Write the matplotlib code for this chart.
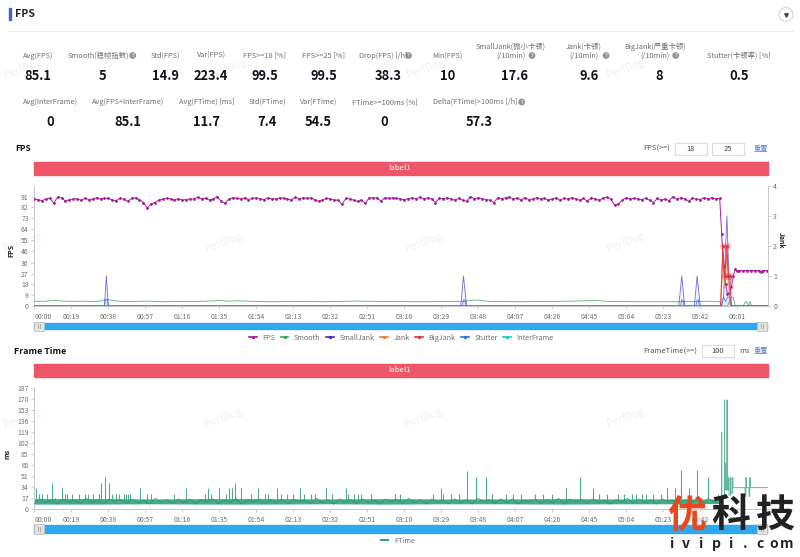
import numpy as np
import matplotlib
matplotlib.use("Agg")
import matplotlib.pyplot as plt
from matplotlib.patches import Rectangle, Circle
from matplotlib.lines import Line2D

plt.rcParams['font.family'] = ['Noto Sans CJK SC', 'DejaVu Sans']

# ---------- data ----------
tick_seconds = [0,19,38,57,76,95,114,133,152,171,190,209,228,247,266,285,304,323,342,361]
tick_labels = ["00:00","00:19","00:38","00:57","01:16","01:35","01:54","02:13","02:32","02:51",
               "03:10","03:29","03:48","04:07","04:26","04:45","05:04","05:23","05:42","06:01"]
fps_ticks = [0,9,18,27,36,46,55,64,73,82,91]
ft_ticks = [0,17,34,51,68,85,102,119,136,153,170,187]

fps_head = [89,88.5,87.5,89,89.5,85.5,90.5,90,87,88.5,89,89,88,89.5,88.5,89,90,89,89.5,89.5,
            88,87.5,89.5,89,87,89.5,90,88.5,86,81.5,85,86,88,89,89.5,89,88.5,89,88,88.5,
            89,89,90.5,89,89.5,88,89,91,87,85.5,89,90,89.5,89,90,88.5,89.5,90,89,88.5,
            90,89,89,90,89.5,89,88,90.5,89,90,89.5,90,88.5,87,88,89.5,89,88,88,84.5,
            89.5,89,88,87,88,85.5,90,90,90,87,90,89.5,90,89.5,89,88.5,89,90,89,90.5,
            89,90,89,86,89.5,89,90,89,88,89.5,88,87,91,89,90,89,88.5,88,86,90,
            89,90,90.5,89,90,88,90,88.5,89,90,89,89.5,88,89,90,88,89.5,89,90,89,
            88,89.5,87,90,89,88,89.5,90.5,89,84,85,88,90,89,89.5,89,88.5,89.5,88,86,
            89.5,88,89,87.5,91,89,90,89,87,89.5,89,88.5,90,89,90,89]
fps_tail_t = [352,353,354,355,356,357,358,359,360,361,362,364,366,368,370,372,373,374,376.5]
fps_tail = [89.5,60,33,18,10,11,16,25,31,29,29.5,29.5,29.5,29.5,29.5,29.5,28.5,29.5,29.5]

smooth_t = [0,5,10,15,20,25,30,34,37,40,45,50,58,65,75,85,95,100,105,112,120,135,150,165,180,
            200,220,226,235,250,270,289,295,310,330,345,352,353,356,358,359,360,364,365.5,367,
            367.5,368.5,376.5]
smooth_v = [4,3.8,4.7,4,3.8,4,3.7,4.1,5.6,4.6,3.8,3.6,4.1,3.6,3.7,3.8,4.6,4,4.4,3.8,3.6,3.7,3.6,
            4.1,3.7,3.6,3.8,5,3.7,3.6,3.8,4.6,3.7,3.6,3.6,3.9,3.6,0,0,7.5,7,0,0,3.8,0,3.8,0,0]

jank_small_t = [0,36,37,38,219,220.4,222,331,332.5,334,339,340.4,342,353,354,355.7,357,358,376.5]
jank_small_v = [0,0,1,0,0,1,0,0,1,0,0,1,0,0,0.3,3,0.4,0,0]
jank_t = [0,352.5,353.6,354.6,355.7,356.7,357.5,376.5]
jank_v = [0,0,1.6,0.6,1.7,0.8,0,0]
bigjank_t = [0,352.5,353.6,354.6,355.7,356.4,357.2,358,376.5]
bigjank_v = [0,0,2,1,2,1,1,0,0]
stutter_t = [0,36,36.5,37.6,38,219.8,220.4,221.2,221.8,332,332.4,333.2,333.8,339.8,340.4,341,341.6,352.7,354,355,356,357,358,376.5]
stutter_v = [0,0,0.2,0.2,0,0,0.2,0.2,0,0,0.2,0.2,0,0,0.2,0.2,0,0,0.3,0.15,0.3,0.3,0,0]
interframe_t = [0,376.5]
interframe_v = [0,0]

ft_band_t = [0,30,60,90,120,150,180,210,240,270,300,330,352]
ft_band_lo = [8,8,8.5,8,8,8.5,8,8.5,8.5,8,8.5,8.5,9]
ft_band_hi = [16.5,16.5,16,16.5,16.5,16,16.5,16,16,16.5,16,16,16]
ft_base = [9,16,10,15,8,16,11,14,9,17,10,15,8,16,12,15,9,16,10,14,8,17,11,15,9,16,10,16,8,15,12,16,
           9,14,10,17,8,15,11,16,9,15,10,16,8,16,12,14,9,17,10,15,8,16,11,15,9,16,10,14,8,16,12,15,
           9,17,10,15,8,16,11,14,9,16,10,15,8,17,12,15,9,16,10,16,8,14,11,16,9,15,10,17,8,16,12,15,
           9,16,10,14,8,15,11,17,9,16,10,15,8,16,12,14,9,15,10,16,8,17,11,15]
ft_spike_t = [1,2.5,4,6.5,9,10.5,14,16,17,19.5,23,26,27.5,30,33,34.5,36.5,38.5,40,42,43.5,46,47,48,49,
              54.5,58,60,72,78,87.5,89,91,95,98.5,100,101.5,103,106,111.5,115,118.5,120,124.5,
              126.5,130,133,136.5,138.5,142,144,150,153,160,161,164,166,168,173,185,188,
              205,209,210,214,218,222,227,232,235,242,246,250,257,261,266,273,280,287,290,294,300,303,307,309,312,
              314,318,322,325,329,332,336,340.5,346,351]
ft_spike_v = [33,24,24,24,41,17,33,24,24,24,24,24,24,24,24,41,50,41,24,24,24,24,24,24,24,
              33,24,24,24,33,24,33,24,33,24,33,33,41,33,24,33,24,24,33,24,24,24,33,24,24,24,33,24,33,24,24,24,24,24,24,24,
              24,33,24,24,24,59,50,50,24,24,24,24,24,24,24,33,50,33,24,24,24,24,24,24,24,24,
              24,24,33,33,60,33,60,50,24]
ft_end_t = [352.9,353.0,353.1,354.4,354.5,354.6,354.9,355.0,355.1,355.7,355.8,355.9,356.6,356.7,356.8,357.6,357.7,357.8,358.6,358.7,358.8,359.0,
            365,365.1,365.4,365.5,365.8,367,367.1,367.4,367.5,367.8,376.5]
ft_end_v = [14,119,20,20,169,30,30,71,30,30,169,30,30,49,22,22,49,25,25,49,33,33.5,
            33.5,20,20,49,33.5,33.5,20,20,49,33.5,33.5]

row1 = [("Avg(FPS)","85.1",38,38),("Smooth(稳帧指数)","5",98,102),("Std(FPS)","14.9",165.5,165.5),
        ("Var(FPS)","223.4",211,211),("FPS>=18 [%]","99.5",264.7,264.7),("FPS>=25 [%]","99.5",323.5,323.5),
        ("Drop(FPS) [/h]","38.3",383,388),("Min(FPS)","10",447.7,447.7),("(/10min)","17.6",510.5,515),
        ("(/10min)","9.6",584,589),("(/10min)","8",654.5,659),("Stutter(卡顿率) [%]","0.5",738.7,738.7)]
row1_top = [("SmallJank(微小卡顿)",511),("Jank(卡顿)",584),("BigJank(严重卡顿)",655)]
row2 = [("Avg(InterFrame)","0",50,50),("Avg(FPS+InterFrame)","85.1",128,128),("Avg(FTime) [ms]","11.7",206.7,206.7),
        ("Std(FTime)","7.4",267,267),("Var(FTime)","54.5",318.3,318.3),("FTime>=100ms [%]","0",384.6,384.5),
        ("Delta(FTime)>100ms [/h]","57.3",475,479)]
help_icons = [(132.7,55.5),(408.5,55.5),(532,55.5),(606,55.5),(675.7,55.5),(521.7,102)]
marks = [(22,68),(227,68),(425,68),(625,68),(22,242),(223,242),(423,242),(625,242),(22,418),(223,417),(423,417),(625,417)]

C_FPS, C_SM, C_SJ, C_J, C_BJ, C_ST, C_IF, C_FT = "#a3189a","#3fa35f","#3a2fd0","#ee7d31","#e5323c","#2f6fe0","#1fc8b4","#2f9e7c"
GREY, AXC = "#6f6f6f", "#c4c8cc"

W, H = 800, 557
fig = plt.figure(figsize=(8, 5.57), dpi=100, facecolor="white")

def px_axes(x0, y0, x1, y1, **kw):
    return fig.add_axes([x0/W, 1-y1/H, (x1-x0)/W, (y1-y0)/H], **kw)

bg = px_axes(0, 0, W, H, zorder=0)
bg.set_xlim(0, W); bg.set_ylim(H, 0); bg.axis("off")

for x, y in marks:
    bg.text(x, y, "PerfDog", color="#f1f1f3", fontsize=7.5, rotation=20, ha="center", va="center")

# header
bg.add_patch(Rectangle((9, 8), 2, 12, color="#3b62d6"))
bg.text(15, 14, "FPS", fontsize=7.6, fontweight="bold", color="#222", va="center")
bg.plot([9, 793], [30.5, 30.5], color="#eeeeee", lw=0.8)
bg.add_patch(Circle((786, 14.5), 7, fc="white", ec="#d8d8d8", lw=0.8))
bg.plot([786], [15], marker="v", ms=2.5, color="#444")

for lab, val, lx, vx in row1:
    bg.text(lx, 55.5, lab, fontsize=5.3, color=GREY, ha="center", va="center")
    bg.text(vx, 75.5, val, fontsize=9.3, fontweight="bold", color="#12121c", ha="center", va="center")
for lab, lx in row1_top:
    bg.text(lx, 46.5, lab, fontsize=5.3, color=GREY, ha="center", va="center")
for lab, val, lx, vx in row2:
    bg.text(lx, 102, lab, fontsize=5.3, color=GREY, ha="center", va="center")
    bg.text(vx, 122.5, val, fontsize=9.3, fontweight="bold", color="#12121c", ha="center", va="center")
for x, y in help_icons:
    bg.add_patch(Circle((x, y), 3.4, fc="#8f96a3", ec="none"))
    bg.text(x, y, "?", fontsize=4.2, color="white", ha="center", va="center")

def input_box(x0, x1, y0, y1, s):
    bg.add_patch(Rectangle((x0, y0), x1-x0, y1-y0, fc="white", ec="#dcdcdc", lw=0.8))
    bg.text((x0+x1)/2, (y0+y1)/2, s, fontsize=5.4, color="#444", ha="center", va="center")

bg.text(15, 148.5, "FPS", fontsize=6, fontweight="bold", color="#111", va="center")
bg.text(670, 148.5, "FPS(>=)", fontsize=5.4, color="#555", ha="right", va="center")
input_box(675, 707, 143, 155, "18")
input_box(712, 744, 143, 155, "25")
bg.text(761, 148.5, "重置", fontsize=5.2, color="#5b7fd8", ha="center", va="center")
bg.add_patch(Rectangle((34, 161.5), 733.5, 13, color="#ee5566"))
bg.text(400, 168, "label1", fontsize=5.6, color="white", ha="center", va="center")

bg.text(14, 351.5, "Frame Time", fontsize=6.4, fontweight="bold", color="#111", va="center")
bg.text(697, 351, "FrameTime(>=)", fontsize=5.4, color="#555", ha="right", va="center")
input_box(702, 734, 345, 357, "100")
bg.text(744, 351, "ms", fontsize=5.4, color="#555", ha="center", va="center")
bg.text(761, 351, "重置", fontsize=5.2, color="#5b7fd8", ha="center", va="center")
bg.add_patch(Rectangle((34, 364), 733.5, 13.3, color="#ee5566"))
bg.text(400, 370.5, "label1", fontsize=5.6, color="white", ha="center", va="center")

def slider(y0, y1):
    bg.add_patch(Rectangle((34, y0), 733, y1-y0, color="#2fa8ee"))
    for x in (34.3, 757):
        bg.add_patch(Rectangle((x, y0-1.2), 10, y1-y0+2.4, fc="#e2e2e2", ec="#c0c0c0", lw=0.6))
        bg.plot([x+4, x+4], [y0+1.5, y1-1.5], color="#999", lw=0.5)
        bg.plot([x+6, x+6], [y0+1.5, y1-1.5], color="#999", lw=0.5)
slider(322.7, 329.3)
slider(525.3, 532.7)

def style_x(ax):
    ax.set_xlim(0, 376.6)
    ax.set_xticks(tick_seconds)
    ax.set_xticklabels(tick_labels, fontsize=4.9, color=GREY)
    ax.get_xticklabels()[0].set_ha("left")
    ax.tick_params(axis="x", length=2, width=0.6, color=AXC, pad=3)
    ax.tick_params(axis="y", length=2, width=0.6, color=AXC, labelsize=4.9, labelcolor=GREY, pad=2)
    for s in ("top", "right"):
        ax.spines[s].set_visible(False)
    for s in ("left", "bottom"):
        ax.spines[s].set_color(AXC)
        ax.spines[s].set_linewidth(0.7)
    ax.patch.set_alpha(0)

# FPS chart
ax = px_axes(34.3, 185.7, 767.6, 306, zorder=2)
style_x(ax)
ax.set_ylim(0, 100)
ax.set_yticks(fps_ticks)
ax.set_ylabel("FPS", fontsize=5, fontweight="bold", color="#222", labelpad=3)
ax.yaxis.set_label_coords((14-34.3)/733.3, 0.46)

fps_t = list(np.arange(len(fps_head)) * 2.0) + fps_tail_t
fps_v = fps_head + fps_tail
l_fps, = ax.plot(fps_t, fps_v, color=C_FPS, lw=0.7, marker="o", ms=1.0, alpha=0.95, zorder=6)
l_sm, = ax.plot(smooth_t, smooth_v, color=C_SM, lw=0.7, alpha=0.75, zorder=3)

ax2 = ax.twinx()
ax2.set_zorder(3)
ax2.patch.set_alpha(0)
ax2.set_ylim(0, 4)
ax2.set_yticks([0, 1, 2, 3, 4])
ax2.tick_params(axis="y", length=2, width=0.6, color=AXC, labelsize=5, labelcolor=GREY, pad=2)
for s in ("top", "left", "bottom"):
    ax2.spines[s].set_visible(False)
ax2.spines["right"].set_color(AXC)
ax2.spines["right"].set_linewidth(0.7)
ax2.set_ylabel("Jank", fontsize=5, fontweight="bold", color="#222", rotation=-90)
ax2.yaxis.set_label_coords((785-34.3)/733.3, 0.55)

l_if, = ax2.plot(interframe_t, interframe_v, color=C_IF, lw=0.6)
l_sj, = ax2.plot(jank_small_t, jank_small_v, color=C_SJ, lw=0.6, alpha=0.7)
ax2.fill_between(jank_small_t, jank_small_v, color=C_SJ, alpha=0.05, lw=0)
l_st, = ax2.plot(stutter_t, stutter_v, color=C_ST, lw=0.6, alpha=0.8)
ax2.fill_between(stutter_t, stutter_v, color=C_ST, alpha=0.08, lw=0)
l_j, = ax2.plot(jank_t, jank_v, color=C_J, lw=0.8, alpha=0.8)
l_bj, = ax2.plot(bigjank_t, bigjank_v, color=C_BJ, lw=0.8, alpha=0.85)
ax2.plot([0, 352.5], [jank_v[0], jank_v[1]], color="#b9907a", lw=0.8)
hot = [(t, v) for t, v in zip(bigjank_t, bigjank_v) if v > 0]
ax2.scatter(*zip(*hot), s=28, color=C_BJ, alpha=0.25, lw=0, clip_on=False, zorder=7)
ax2.scatter(*zip(*hot), s=5, color=C_BJ, lw=0, zorder=8)

leg_h = [Line2D([], [], color=c, lw=1.2, marker="o", ms=1.4) for c in
         (C_FPS, C_SM, C_SJ, C_J, C_BJ, C_ST, C_IF)]
fig.legend(leg_h, ["FPS", "Smooth", "SmallJank", "Jank", "BigJank", "Stutter", "InterFrame"],
           loc="center", bbox_to_anchor=(401.5/W, 1-338/H), ncol=7, frameon=False, fontsize=5.2,
           labelcolor=GREY, handlelength=1.0, handletextpad=0.8, columnspacing=0.8)

# Frame Time chart
af = px_axes(34.3, 388.3, 767.6, 509.3, zorder=2)
style_x(af)
af.set_ylim(0, 187)
af.set_yticks(ft_ticks)
af.set_ylabel("ms", fontsize=5, fontweight="bold", color="#222")
af.yaxis.set_label_coords((11-34.3)/733.3, 0.46)

af.fill_between(ft_band_t, ft_band_lo, ft_band_hi, color="#45ab8c", lw=0, zorder=2)
base_t = np.linspace(0, 352, len(ft_base))
l_ft, = af.plot(base_t, ft_base, color="#2a8f70", lw=0.5, zorder=3)
af.vlines(ft_spike_t, 15, ft_spike_v, color=C_FT, lw=0.8, alpha=0.85, zorder=3)
af.plot(ft_end_t, ft_end_v, color=C_FT, lw=0.7, alpha=0.75, zorder=3)

fig.legend([Line2D([], [], color=C_FT, lw=1.4)], ["FTime"], loc="center",
           bbox_to_anchor=(398/W, 1-541/H), frameon=False, fontsize=5.2, labelcolor=GREY,
           handlelength=1.0, handletextpad=0.8)

# site logo over the chart
top = px_axes(0, 0, W, H, zorder=10)
top.set_xlim(0, W); top.set_ylim(H, 0); top.axis("off")
top.text(687, 516, "优", fontsize=28, fontweight="bold", color="#e8481c", ha="center", va="center")
top.text(731, 516, "科", fontsize=28, fontweight="bold", color="#222222", ha="center", va="center")
top.text(775, 516, "技", fontsize=28, fontweight="bold", color="#222222", ha="center", va="center")
for ch, x in zip("ivipi.com", [672, 686, 701, 716, 731, 745, 760, 774, 787]):
    top.text(x, 544, ch, fontsize=10, fontweight="bold", color="#222222", ha="center", va="center")

fig.savefig("out.png", dpi=100)
